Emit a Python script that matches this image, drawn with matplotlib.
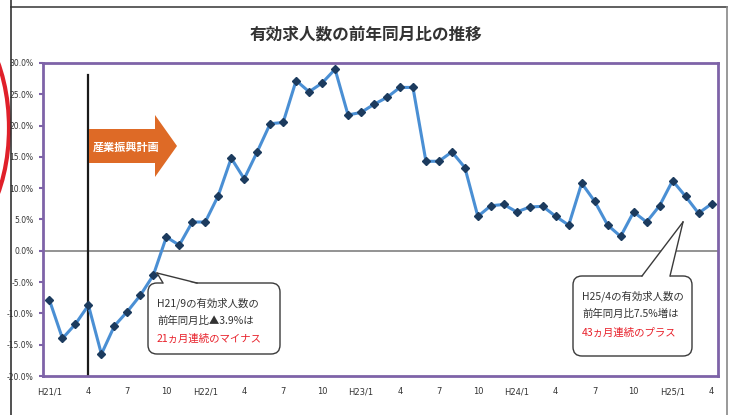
import matplotlib
matplotlib.use("Agg")
import matplotlib.pyplot as plt
from matplotlib.patches import FancyBboxPatch, Polygon, Ellipse
from matplotlib.lines import Line2D

plt.rcParams['font.family'] = ['Noto Sans CJK JP', 'DejaVu Sans']

title = "有効求人数の前年同月比の推移"
values_h21 = [-7.9, -14.0, -11.7, -8.7, -16.5, -12.0, -9.7, -7.1, -3.9, 2.2, 0.9, 4.6]
values_h22 = [4.6, 8.8, 14.8, 11.5, 15.8, 20.3, 20.5, 27.2, 25.4, 26.8, 29.0, 21.7]
values_h23 = [22.1, 23.4, 24.5, 26.1, 26.1, 14.3, 14.3, 15.8, 13.3, 5.5, 7.2, 7.4]
values_h24 = [6.2, 7.0, 7.1, 5.5, 4.1, 10.8, 7.9, 4.1, 2.3, 6.2, 4.6, 7.2]
values_h25 = [11.2, 8.7, 6.0, 7.5]
values = values_h21 + values_h22 + values_h23 + values_h24 + values_h25

xtick_labels = ["H21/1", "4", "7", "10", "H22/1", "4", "7", "10", "H23/1", "4", "7", "10",
                "H24/1", "4", "7", "10", "H25/1", "4"]
yticks = [30, 25, 20, 15, 10, 5, 0, -5, -10, -15, -20]

arrow_label = "産業振興計画"
callout1 = ["H21/9の有効求人数の", "前年同月比▲3.9%は", "21ヵ月連続のマイナス"]
callout2 = ["H25/4の有効求人数の", "前年同月比7.5%増は", "43ヵ月連続のプラス"]

W, H = 744, 415
fig = plt.figure(figsize=(W / 100, H / 100), dpi=100)
fig.patch.set_facecolor("white")

# main plot area (pixel bounds)
L, R, T, B = 43, 718, 63, 376
ax = fig.add_axes([L / W, 1 - B / H, (R - L) / W, (B - T) / H])
x = list(range(len(values)))
ax.axhline(0, color="#8a8a8a", lw=1.3, zorder=1)
ax.plot(x, values, color="#4a8fd4", lw=2.2, zorder=3)
ax.plot(x, values, ls="none", marker="D", ms=4.2, color="#1c3b5e", zorder=4)
ax.set_xlim(-0.5, len(values) - 0.5)
ax.set_ylim(-20, 30)
ax.set_yticks(yticks)
ax.set_yticklabels([f"{v:.1f}%" for v in yticks], fontsize=5.5, color="#333333",
                   family=["Liberation Sans Narrow", "DejaVu Sans"])
ax.set_xticks(list(range(0, len(values), 3)))
ax.set_xticklabels(xtick_labels, fontsize=6, color="#333333",
                   family=["Liberation Sans Narrow", "DejaVu Sans"])
ax.tick_params(axis="y", direction="out", length=3, width=1.5, color="#7e63a8", pad=4)
ax.tick_params(axis="x", length=0, pad=8)
for s in ax.spines.values():
    s.set_color("#7e63a8")
    s.set_linewidth(2)

# vertical marker line at H21/4
ax.axvline(3, ymin=0, ymax=(376 - 75) / (376 - 63), color="#1a1a1a", lw=1.6, zorder=2)

# overlay in pixel coordinates
ov = fig.add_axes([0, 0, 1, 1], zorder=10)
ov.set_xlim(0, W)
ov.set_ylim(H, 0)
ov.axis("off")
ov.patch.set_alpha(0)

# outer frame lines
ov.add_line(Line2D([11, 727], [7, 7], color="#444444", lw=1.2))
ov.add_line(Line2D([727, 727], [7, H], color="#888888", lw=1.2))
ov.add_line(Line2D([11, 11], [0, H], color="#333333", lw=1.2))
ov.add_patch(Ellipse((-60, 128), 138, 242, fill=False, edgecolor="#e0202a", lw=3))

# title
ov.text(366, 35, title, ha="center", va="center", fontsize=12, fontweight="bold", color="#333333")

# orange arrow
arrow_pts = [(89, 129), (155, 129), (155, 115), (177, 146), (155, 177), (155, 163), (89, 163)]
ov.add_patch(Polygon(arrow_pts, closed=True, facecolor="#de6a26", edgecolor="none", zorder=2))
ov.text(126, 147, arrow_label, ha="center", va="center", fontsize=8, fontweight="bold",
        color="white", zorder=3)


def callout(x0, y0, x1, y1, tip, base, lines, ty, tx):
    box = FancyBboxPatch((x0, y0), x1 - x0, y1 - y0, boxstyle="round,pad=0,rounding_size=9",
                         facecolor="white", edgecolor="#3a3a3a", lw=1.0, zorder=5)
    ov.add_patch(box)
    ov.add_patch(Polygon([(base[0], y0 + 1), tip, (base[1], y0 + 1)], closed=True,
                         facecolor="white", edgecolor="none", zorder=6))
    ov.add_line(Line2D([base[0], tip[0]], [y0, tip[1]], color="#3a3a3a", lw=1.0, zorder=7))
    ov.add_line(Line2D([base[1], tip[0]], [y0, tip[1]], color="#3a3a3a", lw=1.0, zorder=7))
    for i, (t, yy) in enumerate(zip(lines, ty)):
        ov.text(tx, yy, t, ha="left", va="center", fontsize=7.5,
                color="#e8202a" if i == 2 else "#333333", zorder=8)


callout(148, 283, 280, 354, (157, 273), (163, 197), callout1, [303, 321, 339], 157)
callout(573, 276, 692, 356, (683, 222), (642, 670), callout2, [296, 314, 333], 582)

fig.savefig("out.png", dpi=100)
